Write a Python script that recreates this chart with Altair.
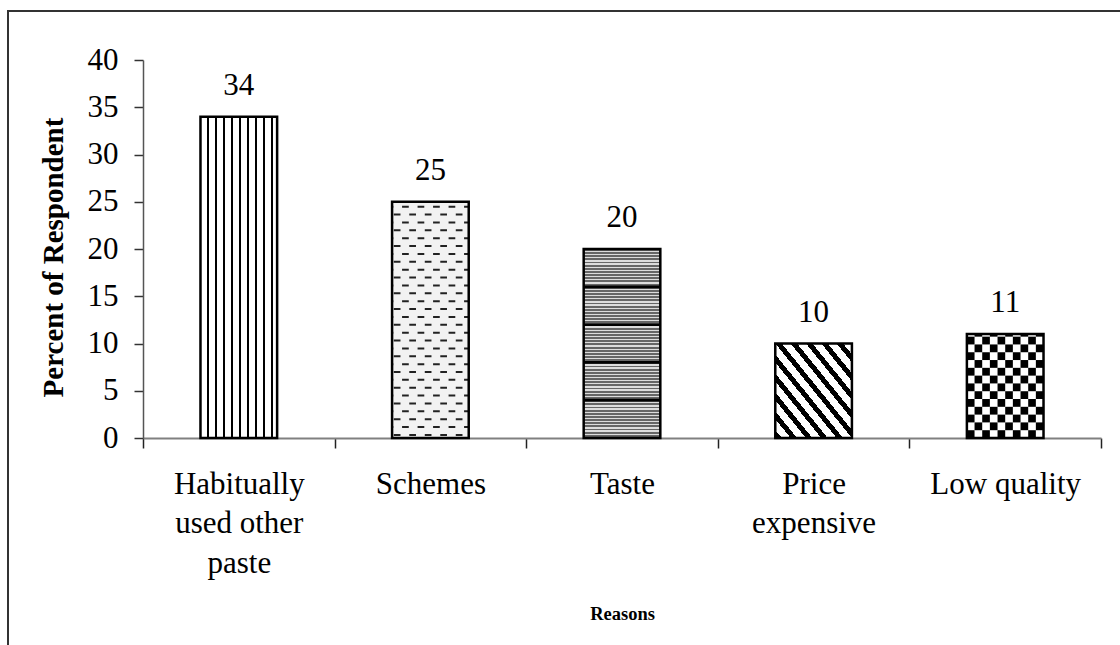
import altair as alt
import pandas as pd
import math

# Survey results: reasons for not using the paste
categories = ["Habitually used other paste", "Schemes", "Taste", "Price expensive", "Low quality"]
label_lines = [["Habitually", "used other", "paste"], ["Schemes"], ["Taste"], ["Price", "expensive"], ["Low quality"]]
percent = [34, 25, 20, 10, 11]
y_ticks = [0, 5, 10, 15, 20, 25, 30, 35, 40]

FONT = "Liberation Serif"
HALF = 0.2  # half bar width, in category units

bars = pd.DataFrame({
    "category": categories,
    "pos": [i + 0.5 for i in range(len(categories))],
    "value": percent,
})
bars["lo"] = bars["pos"] - HALF
bars["hi"] = bars["pos"] + HALF

x_scale = alt.Scale(domain=[0, len(categories)], nice=False, zero=False)
y_scale = alt.Scale(domain=[0, 40], nice=False)

label_js = "[" + ",".join("[" + ",".join("'%s'" % s for s in ln) + "]" for ln in label_lines) + "]"

x_axis = alt.Axis(
    title="Reasons",
    values=[k / 2 for k in range(2 * len(categories) + 1)],
    labelExpr=f"datum.value % 1 == 0 ? '' : {label_js}[floor(datum.value)]",
    labelFont=FONT, labelFontSize=31, labelColor="#000", labelLineHeight=39.5,
    labelBaseline="top", labelPadding=21, labelOverlap=False,
    tickSize=10, tickWidth=1.5, tickColor="#222",
    tickOpacity={"condition": {"test": "datum.value % 1 == 0", "value": 1}, "value": 0},
    domainColor="#808080", domainWidth=2, grid=False,
    titleFont=FONT, titleFontSize=18.5, titleFontWeight="bold", titleColor="#000",
    titleX=479, titleY=175, titleBaseline="middle", titleAlign="center",
)
y_axis = alt.Axis(
    title="Percent of Respondent",
    values=y_ticks,
    labelFont=FONT, labelFontSize=31, labelColor="#000", labelPadding=16,
    tickSize=9, tickWidth=1.5, tickColor="#333",
    domainColor="#555", domainWidth=1.5, grid=False,
    titleFont=FONT, titleFontSize=29, titleFontWeight="bold", titleColor="#000",
    titleAngle=-90, titleX=-90, titleY=197, titleBaseline="middle", titleAlign="center",
)


def xq(field):
    return alt.X(f"{field}:Q", scale=x_scale, axis=x_axis)


def yq(field):
    return alt.Y(f"{field}:Q", scale=y_scale, axis=y_axis)


def band_stops(centers, half, ink, paper):
    stops = [alt.GradientStop(color=paper, offset=0)]
    for c in centers:
        a, b = max(c - half, 0), min(c + half, 1)
        stops += [alt.GradientStop(color=paper, offset=a), alt.GradientStop(color=ink, offset=a),
                  alt.GradientStop(color=ink, offset=b), alt.GradientStop(color=paper, offset=b)]
    stops.append(alt.GradientStop(color=paper, offset=1))
    return stops


def periodic_stops(n, frac, ink, paper):
    stops = []
    for k in range(n):
        a, m, b = k / n, (k + frac) / n, (k + 1) / n
        stops += [alt.GradientStop(color=ink, offset=a), alt.GradientStop(color=ink, offset=m),
                  alt.GradientStop(color=paper, offset=m), alt.GradientStop(color=paper, offset=b)]
    return stops


fills = {
    # vertical hairlines
    categories[0]: alt.LinearGradient(gradient="linear", x1=0, y1=0, x2=1, y2=0,
                                      stops=band_stops([0.093 + 0.105 * k for k in range(9)], 0.013, "#000", "#fff")),
    # light dotted ground under the dashes
    categories[1]: "#f2f2f2",
    # fine grey horizontal lines
    categories[2]: alt.LinearGradient(gradient="linear", x1=0, y1=0, x2=0, y2=1,
                                      stops=periodic_stops(60, 0.6, "#666666", "#dcdcdc")),
    # wide downward diagonal stripes
    categories[3]: alt.LinearGradient(gradient="linear", x1=0, y1=1, x2=1, y2=0,
                                      stops=periodic_stops(10, 0.42, "#000", "#fff")),
    categories[4]: "#fff",
}

base = alt.Chart(bars)
layers = []

# outer frame
frame = alt.Chart(pd.DataFrame({"frame": [0]})).mark_rect(
    fillOpacity=0, stroke="#333", strokeWidth=2
).encode(x=alt.value(-135), x2=alt.value(1100), y=alt.value(-49), y2=alt.value(700))
layers.append(frame)

for name in categories:
    layers.append(
        base.transform_filter(alt.datum.category == name)
        .mark_bar(fill=fills[name], strokeWidth=0)
        .encode(x=xq("lo"), x2="hi", y=yq("value"), y2=alt.Y2(datum=0))
    )

# dashed rows on "Schemes"
row_step = 0.833
dash_rows = []
for _, b in bars[bars["category"] == categories[1]].iterrows():
    k = 0
    while 0.32 + k * row_step < b["value"] - 0.4:
        dash_rows.append({"lo": b["lo"], "hi": b["hi"], "y": 0.32 + k * row_step, "parity": k % 2})
        k += 1
dash_df = pd.DataFrame(dash_rows)
for parity, offset in [(0, 13.8), (1, 5.5)]:
    layers.append(
        alt.Chart(dash_df[dash_df["parity"] == parity])
        .mark_rule(strokeDash=[6.7, 8.8], strokeDashOffset=offset, strokeWidth=2, color="#222")
        .encode(x=xq("lo"), x2="hi", y=yq("y"))
    )

# heavy rules every 4 units on "Taste"
heavy = []
for _, b in bars[bars["category"] == categories[2]].iterrows():
    for v in range(4, int(b["value"]), 4):
        heavy.append({"lo": b["lo"], "hi": b["hi"], "y": v})
layers.append(
    alt.Chart(pd.DataFrame(heavy)).mark_rule(strokeWidth=2.8, color="#000")
    .encode(x=xq("lo"), x2="hi", y=yq("y"))
)

# checkerboard on "Low quality"
cells = []
ncol, cell_h = 10, 0.825
for _, b in bars[bars["category"] == categories[4]].iterrows():
    w = (b["hi"] - b["lo"]) / ncol
    for r in range(math.ceil(b["value"] / cell_h)):
        for c in range(ncol):
            if (r + c) % 2 == 0:
                cells.append({"x": b["lo"] + c * w, "x2": b["lo"] + (c + 1) * w,
                              "y": r * cell_h, "y2": min((r + 1) * cell_h, b["value"])})
layers.append(
    alt.Chart(pd.DataFrame(cells)).mark_rect(color="#000", strokeWidth=0)
    .encode(x=xq("x"), x2="x2", y=yq("y"), y2="y2")
)

# bar outlines
layers.append(
    base.mark_bar(fillOpacity=0, stroke="#000", strokeWidth=2.5)
    .encode(x=xq("lo"), x2="hi", y=yq("value"), y2=alt.Y2(datum=0))
)

# value labels
layers.append(
    base.mark_text(font=FONT, fontSize=31, color="#000", baseline="alphabetic", dy=-22)
    .encode(x=xq("pos"), y=yq("value"), text="value:Q")
)

chart = alt.layer(*layers).properties(
    width=958, height=378,
    autosize=alt.AutoSizeParams(type="none"),
    padding={"left": 143, "top": 60, "right": 19, "bottom": 207},
    background="#ffffff",
).configure_view(strokeWidth=0)

chart.save("out.html", embed_options={"renderer": "svg", "actions": False})
